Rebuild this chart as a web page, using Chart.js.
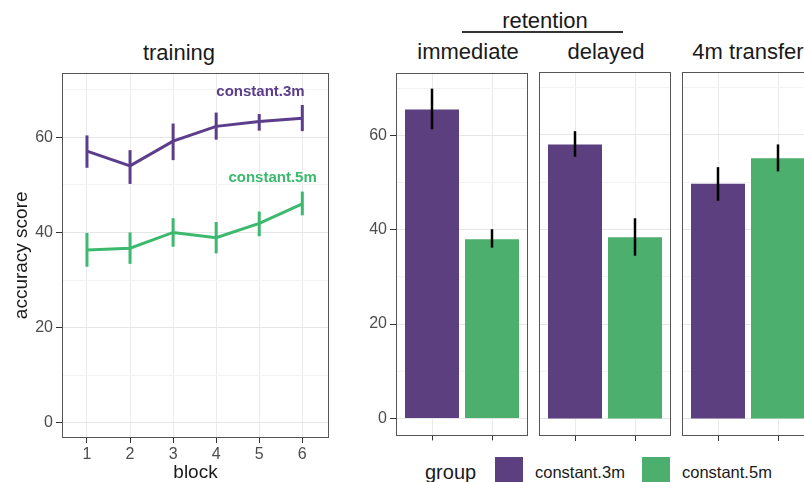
<!DOCTYPE html>
<html>
<head>
<meta charset="utf-8">
<script src="https://cdn.jsdelivr.net/npm/chart.js@4"></script>
<style>
  html, body { margin: 0; padding: 0; background: #fff; }
  body { width: 804px; height: 482px; position: relative; overflow: hidden;
         font-family: "Liberation Sans", Arial, sans-serif; color: #1a1a1a; }
  canvas { position: absolute; }
  .t { position: absolute; white-space: nowrap; transform: translate(-50%, -50%); line-height: 1; }
  .strip { font-size: 22px; }
  .sw { position: absolute; width: 28px; height: 30px; }
  .lg { position: absolute; font-size: 16.5px; line-height: 1; transform: translateY(-50%); white-space: nowrap; }
</style>
</head>
<body>
<div class="t strip" style="left:179px; top:53px">training</div>
<div class="t strip" style="left:545px; top:21px">retention</div>
<div style="position:absolute; left:462px; top:31px; width:161px; height:1.5px; background:#333"></div>
<div class="t strip" style="left:468px; top:52px">immediate</div>
<div class="t strip" style="left:606px; top:52px">delayed</div>
<div class="t strip" style="left:748px; top:52px">4m transfer</div>

<canvas id="train" width="340" height="422" style="left:0; top:60px"></canvas>
<canvas id="f0" width="192" height="388" style="left:340px; top:60px"></canvas>
<canvas id="f1" width="140" height="388" style="left:536px; top:60px"></canvas>
<canvas id="f2" width="140" height="388" style="left:679px; top:60px"></canvas>

<div class="lg" style="left:425px; top:472px; font-size:20px">group</div>
<div class="sw" style="left:495px; top:457px; background:#5c3f7e"></div>
<div class="lg" style="left:535px; top:472px">constant.3m</div>
<div class="sw" style="left:642px; top:457px; background:#4caf6e"></div>
<div class="lg" style="left:682px; top:472px">constant.5m</div>

<script>
// --- data ----------------------------------------------------------------
const blocks = [1, 2, 3, 4, 5, 6];
const train3m   = [57.1, 54.0, 59.2, 62.3, 63.3, 64.0];
const train3mLo = [53.6, 50.2, 55.2, 59.5, 61.4, 61.3];
const train3mHi = [60.4, 57.3, 62.9, 65.2, 64.9, 66.8];
const train5m   = [36.3, 36.7, 40.0, 38.9, 41.9, 46.0];
const train5mLo = [32.8, 33.4, 37.0, 35.6, 39.2, 43.6];
const train5mHi = [39.9, 40.0, 43.0, 42.2, 44.4, 48.6];

const groups = ["constant.3m", "constant.5m"];
const phases = ["immediate", "delayed", "4m transfer"];
const test3m   = [65.5, 58.0, 49.7];
const test3mLo = [61.3, 55.4, 46.1];
const test3mHi = [69.9, 60.8, 53.2];
const test5m   = [38.0, 38.4, 55.1];
const test5mLo = [36.2, 34.5, 52.3];
const test5mHi = [40.1, 42.4, 58.0];

const yTicks = [0, 10, 20, 30, 40, 50, 60, 70];   // labelled every 20
// where the direct labels sit in the training panel (data units)
const labelX = [5.03, 5.31];
const labelY = [69.6, 51.4];

const PURPLE = "#5b3d8c", GREEN = "#3cb96e";
const BAR = ["#5c3f7e", "#4caf6e"];
const TICK_FONT = { family: "Liberation Sans", size: 16 };

// --- plugins ----------------------------------------------------------------
const frame = {
  id: "frame",
  afterDraw(chart) {
    const { left, top, right, bottom } = chart.chartArea;
    const c = chart.ctx;
    c.save();
    c.strokeStyle = "#555";
    c.lineWidth = 1;
    c.strokeRect(Math.round(left) + 0.5, Math.round(top) + 0.5,
                 Math.round(right - left) - 1, Math.round(bottom - top) - 1);
    c.restore();
  },
};

const errbars = {
  id: "errbars",
  afterDatasetsDraw(chart) {
    const c = chart.ctx;
    chart.data.datasets.forEach((ds, di) => {
      if (!ds.lo) return;
      const meta = chart.getDatasetMeta(di);
      const xs = chart.scales[meta.xAxisID], ys = chart.scales[meta.yAxisID];
      c.save();
      c.lineWidth = ds.errWidth || 2;
      c.strokeStyle = ds.errColor || ds.borderColor;
      ds.data.forEach((p, i) => {
        const x = xs.getPixelForValue(p.x);
        c.beginPath();
        c.moveTo(x, ys.getPixelForValue(ds.lo[i]));
        c.lineTo(x, ys.getPixelForValue(ds.hi[i]));
        c.stroke();
      });
      c.restore();
    });
  },
};

const directLabels = {
  id: "directLabels",
  afterDatasetsDraw(chart) {
    const c = chart.ctx, xs = chart.scales.x, ys = chart.scales.y;
    c.save();
    c.font = "bold 15px 'Liberation Sans'";
    c.textAlign = "center";
    c.textBaseline = "middle";
    chart.data.datasets.forEach((ds, i) => {
      c.fillStyle = ds.borderColor;
      c.fillText(ds.label, xs.getPixelForValue(labelX[i]), ys.getPixelForValue(labelY[i]));
    });
    c.restore();
  },
};

function yAxis(min, max, show, width) {
  return {
    type: "linear", min, max,
    afterBuildTicks: (s) => { s.ticks = yTicks.map(v => ({ value: v })); },
    afterFit: (s) => { s.width = width; },
    border: { display: false },
    grid: {
      color: (ctx) => ctx.tick.value % 20 ? "#f3f3f3" : "#e6e6e6",
      tickColor: (ctx) => ctx.tick.value % 20 ? "rgba(0,0,0,0)" : "#333",
      tickLength: 6,
      drawTicks: show,
    },
    ticks: {
      display: show,
      color: "#4d4d4d", font: TICK_FONT, padding: 3,
      callback: (v) => v % 20 ? "" : String(v),
    },
  };
}

// --- training panel -----------------------------------------------------------
new Chart(document.getElementById("train"), {
  type: "line",
  data: {
    datasets: [
      { label: groups[0], data: blocks.map((b, i) => ({ x: b, y: train3m[i] })),
        lo: train3mLo, hi: train3mHi, errWidth: 3,
        borderColor: PURPLE, borderWidth: 3, pointRadius: 0, tension: 0 },
      { label: groups[1], data: blocks.map((b, i) => ({ x: b, y: train5m[i] })),
        lo: train5mLo, hi: train5mHi, errWidth: 3,
        borderColor: GREEN, borderWidth: 3, pointRadius: 0, tension: 0 },
    ],
  },
  options: {
    responsive: false, animation: false,
    layout: { padding: { top: 9, right: 11, left: 0, bottom: 0 } },
    plugins: { legend: { display: false }, tooltip: { enabled: false } },
    scales: {
      x: {
        type: "linear", min: 0.42, max: 6.62,
        afterBuildTicks: (s) => { s.ticks = blocks.map(v => ({ value: v })); },
        afterFit: (s) => { s.height = 44; },
        border: { display: false },
        grid: { color: "#ebebeb", tickColor: "#333", tickLength: 5 },
        ticks: { color: "#4d4d4d", font: TICK_FONT, padding: 2, maxRotation: 0 },
        title: { display: true, text: "block", color: "#1a1a1a",
                 font: { family: "Liberation Sans", size: 19, lineHeight: 1 },
                 padding: { top: 0, bottom: 0 } },
      },
      y: Object.assign(yAxis(-3.2, 73.6, true, 62), {
        title: { display: true, text: "accuracy score", color: "#1a1a1a",
                 font: { family: "Liberation Sans", size: 19, lineHeight: 1 },
                 padding: { top: 12, bottom: 0 } },
      }),
    },
  },
  plugins: [frame, errbars, directLabels],
});

// --- test panels ---------------------------------------------------------------
function facet(id, k, showY) {
  new Chart(document.getElementById(id), {
    type: "bar",
    data: {
      datasets: [{
        label: phases[k],
        data: [{ x: 1, y: test3m[k] }, { x: 2, y: test5m[k] }],
        lo: [test3mLo[k], test5mLo[k]], hi: [test3mHi[k], test5mHi[k]],
        errColor: "#000", errWidth: 2.5,
        backgroundColor: BAR, borderWidth: 0,
        barPercentage: 0.9, categoryPercentage: 1.0,
      }],
    },
    options: {
      responsive: false, animation: false,
      layout: { padding: { top: 12, right: showY ? 4 : 5, left: showY ? 0 : 3, bottom: 0 } },
      plugins: { legend: { display: false }, tooltip: { enabled: false } },
      scales: {
        x: {
          type: "linear", min: 0.4, max: 2.6, offset: false,
          afterBuildTicks: (s) => { s.ticks = [{ value: 1 }, { value: 2 }]; },
          afterFit: (s) => { s.height = 12; },
          border: { display: false },
          grid: { offset: false, color: "#ebebeb", tickColor: "#333", tickLength: 5 },
          ticks: { callback: () => "", font: TICK_FONT },
        },
        y: yAxis(-3.6, 73.3, showY, showY ? 56 : 0),
      },
    },
    plugins: [frame, errbars],
  });
}
facet("f0", 0, true);
facet("f1", 1, false);
facet("f2", 2, false);
</script>
</body>
</html>
